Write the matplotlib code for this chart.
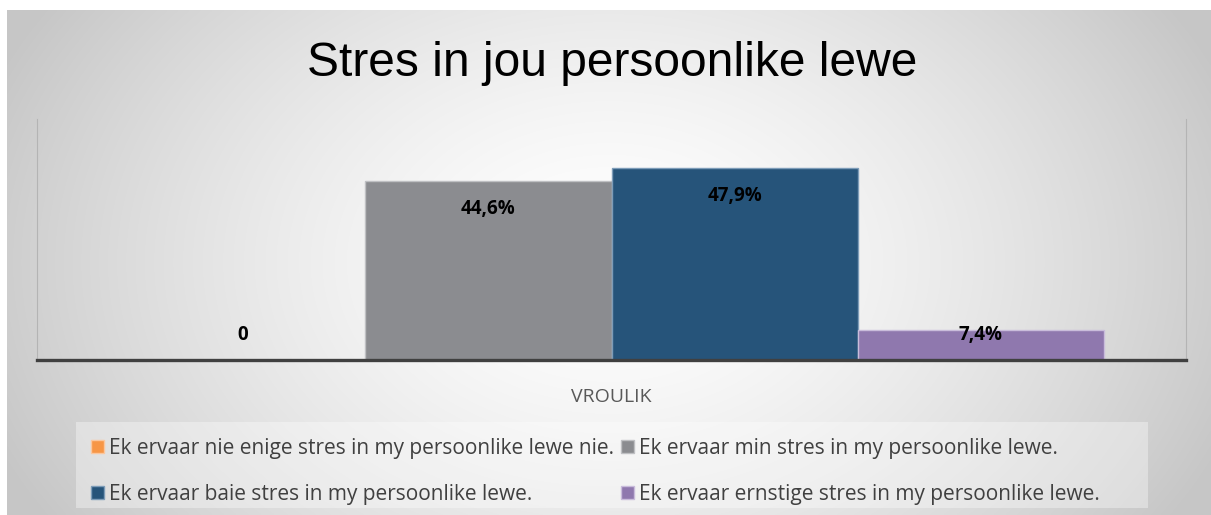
import numpy as np
import matplotlib
matplotlib.use("Agg")
import matplotlib.pyplot as plt
from matplotlib.patches import Rectangle

# ---- data ----
title = "Stres in jou persoonlike lewe"
category = "VROULIK"
series_labels = [
    "Ek ervaar nie enige stres in my persoonlike lewe nie.",
    "Ek ervaar min stres in my persoonlike lewe.",
    "Ek ervaar baie stres in my persoonlike lewe.",
    "Ek ervaar ernstige stres in my persoonlike lewe.",
]
values = [0.0, 44.6, 47.9, 7.4]
value_labels = ["0", "44,6%", "47,9%", "7,4%"]
colors = ["#F79646", "#8B8C90", "#26547A", "#8F78AE"]
edge_colors = ["#FBC79E", "#BFC0C3", "#7D9CB8", "#C9BCDB"]

W, H, DPI = 1211, 515, 100
fig = plt.figure(figsize=(W / DPI, H / DPI), dpi=DPI)
fig.patch.set_facecolor("white")

# ---- chart background (radial gradient) ----
bg = fig.add_axes([7 / W, 0, 1 - 7 / W, 1 - 10 / H], zorder=-10)
nx, ny = 600, 260
xx, yy = np.meshgrid(np.linspace(0, 1, nx), np.linspace(0, 1, ny))
d = np.sqrt(((xx - 0.5) / 0.55) ** 2 + ((yy - 0.5) / 0.95) ** 2)
d = np.clip(d, 0, 1) ** 1.5
g = 1.0 - (1.0 - 0.78) * d
img = np.dstack([g, g, g])
bg.imshow(img, aspect="auto", extent=[0, 1, 0, 1], interpolation="bilinear")
bg.set_axis_off()

# legend box
fig.patches.append(Rectangle((76 / W, 1 - 508 / H), (1148 - 76) / W, (508 - 422) / H,
                             transform=fig.transFigure, facecolor="white", alpha=0.35,
                             edgecolor="none", zorder=-5))

# ---- plot area ----
ax = fig.add_axes([37 / W, 1 - 360 / H, (1186 - 37) / W, (360 - 119) / H])
ax.patch.set_alpha(0)
x = np.arange(len(values))
bars = []
for i, (v, c, ec, lab) in enumerate(zip(values, colors, edge_colors, series_labels)):
    b = ax.bar(x[i], v, width=1.0, color=c, edgecolor=ec, linewidth=1.0, label=lab, zorder=2)
    bars.append(b)
    y = max(v - 7.0, 6.2)
    ax.text(x[i], y, value_labels[i], ha="center", va="center", fontsize=13.5,
            fontweight="bold", family="Open Sans", color="black", zorder=3)

ax.set_xlim(-0.835, 3.835)
ax.set_ylim(0, 60)
ax.set_yticks([])
ax.set_xticks([1.5], labels=[category])
ax.tick_params(axis="x", length=0, pad=20, labelsize=14, labelcolor="#595959")
for lbl in ax.get_xticklabels():
    lbl.set_family("Open Sans")
ax.spines["top"].set_visible(False)
ax.spines["bottom"].set_color("#404040")
ax.spines["bottom"].set_linewidth(2.4)
for s in ("left", "right"):
    ax.spines[s].set_color("#B4B4B4")
    ax.spines[s].set_linewidth(0.8)

fig.text(612 / W, 1 - 63 / H, title, ha="center", va="center",
         fontsize=34.5, family="Liberation Sans", color="black")

# legend filled row-wise: column 1 = series 0, 2 ; column 2 = series 1, 3
order = [0, 2, 1, 3]
leg = fig.legend([bars[i] for i in order], [series_labels[i] for i in order],
                 loc="upper left", bbox_to_anchor=(76 / W, 1 - 423 / H), ncol=2,
                 frameon=False, prop={"family": "Open Sans", "size": 15},
                 handlelength=0.62, handleheight=0.62, handletextpad=0.25,
                 columnspacing=0.35, labelspacing=1.2, borderpad=0.2)
for t in leg.get_texts():
    t.set_color("#404040")

fig.savefig("out.png", dpi=DPI)
